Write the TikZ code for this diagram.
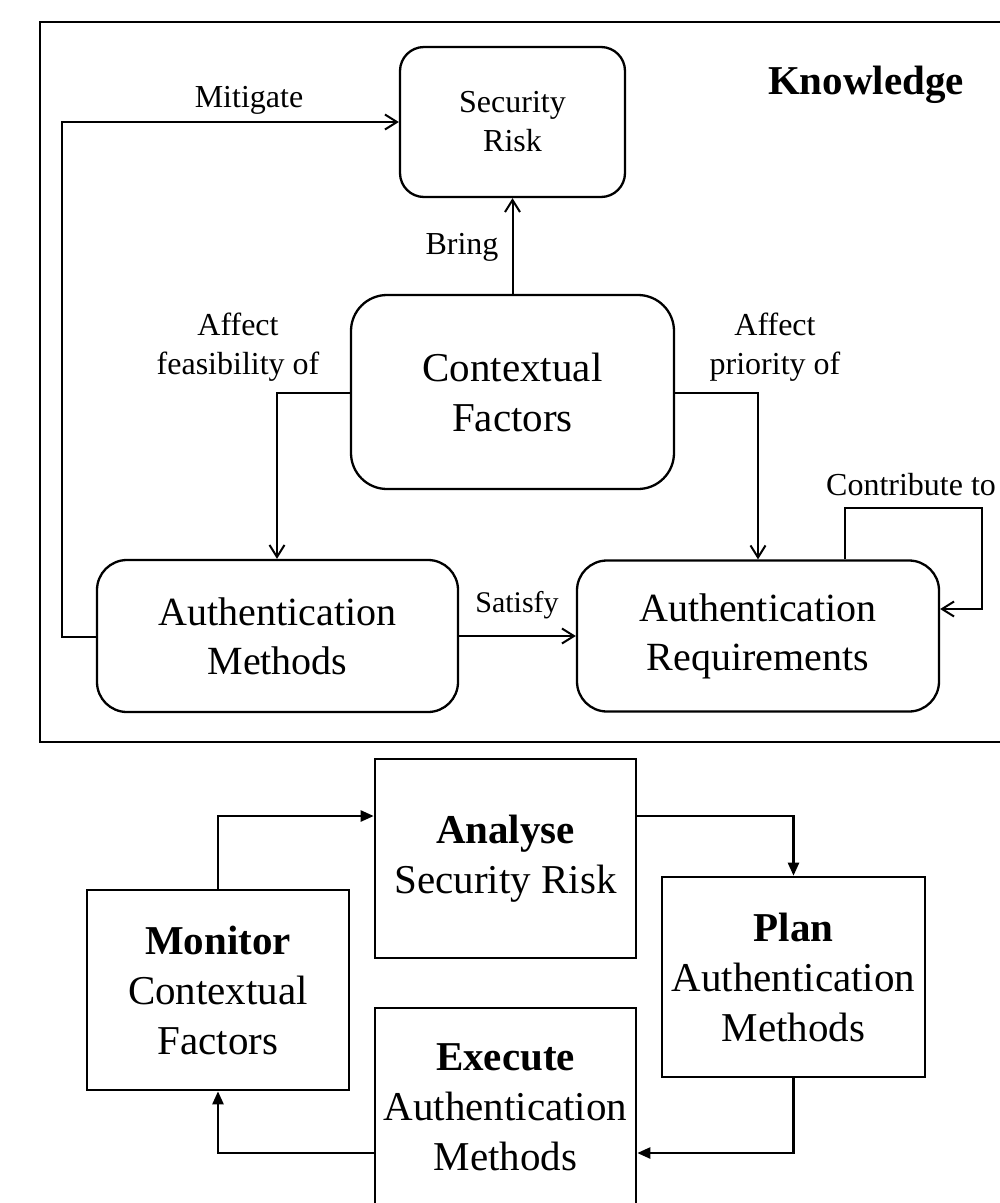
\documentclass[tikz,border=0pt]{standalone}
\usepackage{fontspec}
\setmainfont{Liberation Serif}
\usetikzlibrary{arrows.meta}
\begin{document}
\begin{tikzpicture}[x=1pt,y=-1pt,
  rbox/.style={draw, rounded corners=30pt, line width=2.3pt, inner sep=0pt, align=center, font=\fontsize{40}{49}\selectfont},
  sbox/.style={draw, line width=2.6pt, inner sep=0pt, align=center, font=\fontsize{41}{50}\selectfont},
  lbl/.style={align=center, inner sep=0pt, font=\fontsize{32}{39}\selectfont},
  oarr/.style={line width=2pt, -{Straight Barb[length=12pt,width=15pt,line width=2pt]}},
  farr/.style={line width=2.4pt, -{Triangle[length=13pt,width=11pt]}}]
\clip (0,0) rectangle (1000,1203);
\useasboundingbox (0,0) rectangle (1000,1203);
\fill[white] (0,0) rectangle (1000,1203);
% knowledge frame
\draw[line width=2.8pt] (40,22) rectangle (1030,742);
\node[inner sep=0pt, font=\fontsize{41}{49}\selectfont\bfseries] (kn) at (866,85) {Knowledge};
% top nodes
\node[rbox, rounded corners=24pt, minimum width=225pt, minimum height=150pt, font=\fontsize{32}{39}\selectfont] (SR) at (512.5,122) {Security\\Risk};
\node[rbox, rounded corners=36pt, minimum width=323pt, minimum height=194pt, font=\fontsize{41}{50}\selectfont] (CF) at (512.5,392) {Contextual\\Factors};
\node[rbox, minimum width=361pt, minimum height=152pt] (AM) at (277.5,636) {Authentication\\Methods};
\node[rbox, minimum width=362pt, minimum height=151pt] (AR) at (758,636) {Authentication\\Requirements};
% labels
\node[lbl] (lmit) at (249,100) {Mitigate};
\node[lbl] (lbring) at (462,247) {Bring};
\node[lbl] (lfeas) at (238,347) {Affect\\feasibility of};
\node[lbl] (lprio) at (775,347) {Affect\\priority of};
\node[lbl, font=\fontsize{30}{36}\selectfont] (lsat) at (517,605) {Satisfy};
\node[lbl, anchor=west] (lcon) at (826,485) {Contribute to};
% top connectors
\coordinate (mb) at (62,637);
\coordinate (mt) at (62,122);
\draw[oarr] (AM.west |- mb) -- (mb) -- (mt) -- (SR.west |- mt);
\draw[oarr] (CF.north) -- (SR.south);
\coordinate (fl) at (277,393);
\coordinate (fr) at (758,393);
\draw[oarr] (CF.west |- fl) -- (fl) -- (AM.north -| fl);
\draw[oarr] (CF.east |- fr) -- (fr) -- (AR.north -| fr);
\draw[oarr] (AM.east) -- (AR.west);
\coordinate (c1) at (845,508);
\coordinate (c2) at (982,508);
\coordinate (c3) at (982,609);
\draw[oarr] (AR.north -| c1) -- (c1) -- (c2) -- (c3) -- (AR.east |- c3);
% bottom cycle
\node[sbox, minimum width=261pt, minimum height=199pt] (AN) at (505.5,858.5) {\textbf{Analyse}\\Security Risk};
\node[sbox, minimum width=262pt, minimum height=200pt] (MO) at (218,990) {\textbf{Monitor}\\Contextual\\Factors};
\node[sbox, minimum width=263pt, minimum height=200pt] (PL) at (793.5,977) {\textbf{Plan}\\Authentication\\Methods};
\node[sbox, minimum width=261pt, minimum height=198pt] (EX) at (505.5,1107) {\textbf{Execute}\\Authentication\\Methods};
\coordinate (b1) at (218,816);
\coordinate (b2) at (793.5,816);
\coordinate (b3) at (793.5,1153);
\coordinate (b4) at (218,1153);
\draw[farr] (MO.north) -- (b1) -- (AN.west |- b1);
\draw[farr] (AN.east |- b2) -- (b2) -- (PL.north);
\draw[farr] (PL.south) -- (b3) -- (EX.east |- b3);
\draw[farr] (EX.west |- b4) -- (b4) -- (MO.south);
\end{tikzpicture}
\end{document}
